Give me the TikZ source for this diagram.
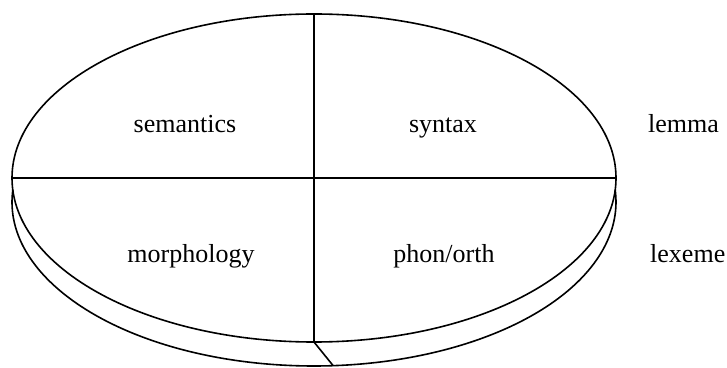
\documentclass[tikz,border=0pt]{standalone}
\usepackage{fontspec}
\setmainfont{Liberation Serif}
\usetikzlibrary{shapes.geometric}
\begin{document}
\begin{tikzpicture}[x=1pt,y=1pt,
  line/.style={line width=1.6pt, black},
  lbl/.style={anchor=base, inner sep=0pt, font=\fontsize{26}{31}\selectfont},
  side/.style={lbl, anchor=base west}]
\useasboundingbox (0,0) rectangle (727,367);
% lower rim (shifted ellipse, visible part)
\draw[line] (314,165) ++(175.8:302 and 164) arc[start angle=175.8, end angle=364.2, x radius=302, y radius=164];
% top surface
\node[draw, line width=1.6pt, ellipse, minimum width=604pt, minimum height=328pt, inner sep=0pt, outer sep=0pt] (disk) at (314,189) {};
\coordinate (tip) at (333,1.5);
\draw[line] (disk.north) -- (disk.south) -- (tip);
\draw[line] (disk.west) -- (disk.east);
\node[lbl] (sem) at (185,234) {semantics};
\node[lbl] (syn) at (443,234) {syntax};
\node[lbl] (mor) at (191,105) {morphology};
\node[lbl] (pho) at (444,105) {phon/orth};
\node[side] (lem) at (648,234) {lemma};
\node[side] (lex) at (650,105) {lexeme};
\end{tikzpicture}
\end{document}
